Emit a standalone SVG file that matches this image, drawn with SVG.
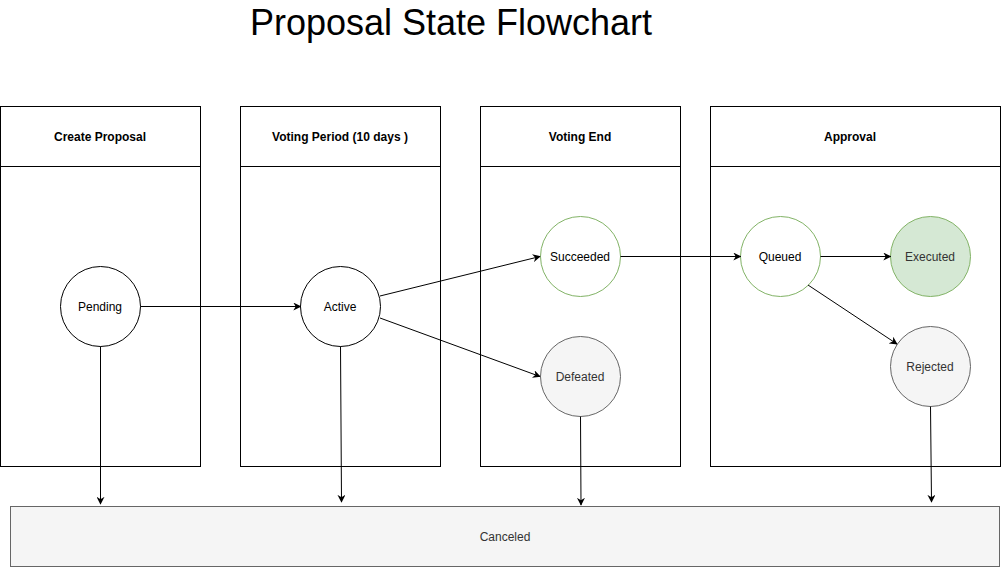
<svg xmlns="http://www.w3.org/2000/svg" width="1001" height="567" viewBox="0 0 1001 567">
<defs>
<marker id="arr" viewBox="0 0 10 10" refX="9" refY="5" markerWidth="8" markerHeight="8" markerUnits="userSpaceOnUse" orient="auto">
<path d="M0,0 L10,5 L0,10 L3,5 Z" fill="#000"/>
</marker>
</defs>
<style>
text{font-family:"Liberation Sans",Arial,sans-serif;font-size:12px;text-anchor:middle;dominant-baseline:central;fill:#000}
.lane{fill:#fff;stroke:#000;stroke-width:1}
.hdr{font-weight:bold}
.plain{fill:#fff;stroke:#000}
.green{fill:#fff;stroke:#82b366}
.exec{fill:#d5e8d4;stroke:#82b366}
.gray{fill:#f5f5f5;stroke:#666}
.gt{fill:#333}
.conn line{stroke:#000;stroke-width:1;marker-end:url(#arr)}
</style>
<rect width="1001" height="567" fill="#fff"/>
<text x="451" y="22" style="font-size:36px">Proposal State Flowchart</text>
<g id="lane-create">
<rect class="lane" x="0.5" y="106.5" width="200" height="360"/>
<line x1="0.5" y1="166.5" x2="200.5" y2="166.5" stroke="#000"/>
<text class="hdr" x="100" y="137">Create Proposal</text>
</g>
<g id="lane-voting">
<rect class="lane" x="240.5" y="106.5" width="200" height="360"/>
<line x1="240.5" y1="166.5" x2="440.5" y2="166.5" stroke="#000"/>
<text class="hdr" x="340" y="137">Voting Period (10 days )</text>
</g>
<g id="lane-end">
<rect class="lane" x="480.5" y="106.5" width="200" height="360"/>
<line x1="480.5" y1="166.5" x2="680.5" y2="166.5" stroke="#000"/>
<text class="hdr" x="580" y="137">Voting End</text>
</g>
<g id="lane-approval">
<rect class="lane" x="710.5" y="106.5" width="290" height="360"/>
<line x1="710.5" y1="166.5" x2="1000.5" y2="166.5" stroke="#000"/>
<text class="hdr" x="850" y="137">Approval</text>
</g>
<g id="canceled">
<rect class="gray" x="10.5" y="506.5" width="989" height="60"/>
<text class="gt" x="505" y="537">Canceled</text>
</g>
<g id="pending">
<circle class="plain" cx="100.5" cy="306.5" r="40"/>
<text x="100" y="307">Pending</text>
</g>
<g id="active">
<circle class="plain" cx="340.5" cy="306.5" r="40"/>
<text x="340" y="307">Active</text>
</g>
<g id="succeeded">
<circle class="green" cx="580.5" cy="256.5" r="40"/>
<text x="580" y="257">Succeeded</text>
</g>
<g id="defeated">
<circle class="gray" cx="580.5" cy="376.5" r="40"/>
<text class="gt" x="580" y="377">Defeated</text>
</g>
<g id="queued">
<circle class="green" cx="780.5" cy="256.5" r="40"/>
<text x="780" y="257">Queued</text>
</g>
<g id="executed">
<circle class="exec" cx="930.5" cy="256.5" r="40"/>
<text class="gt" x="930" y="257">Executed</text>
</g>
<g id="rejected">
<circle class="gray" cx="930.5" cy="366.5" r="40"/>
<text class="gt" x="930" y="367">Rejected</text>
</g>
<g id="connectors" class="conn">
<line x1="140.5" y1="306.5" x2="300.5" y2="306.5"/>
<line x1="380" y1="296" x2="540" y2="256.5"/>
<line x1="380" y1="318" x2="540" y2="376.5"/>
<line x1="620.5" y1="256.5" x2="740.5" y2="256.5"/>
<line x1="820.5" y1="256.5" x2="890.5" y2="256.5"/>
<line x1="808" y1="285" x2="897" y2="344"/>
<line x1="100.5" y1="346.5" x2="100.5" y2="504"/>
<line x1="340.5" y1="346.5" x2="341.5" y2="502"/>
<line x1="580.5" y1="416.5" x2="581" y2="505"/>
<line x1="930.5" y1="406.5" x2="931.5" y2="502"/>
</g>
</svg>
